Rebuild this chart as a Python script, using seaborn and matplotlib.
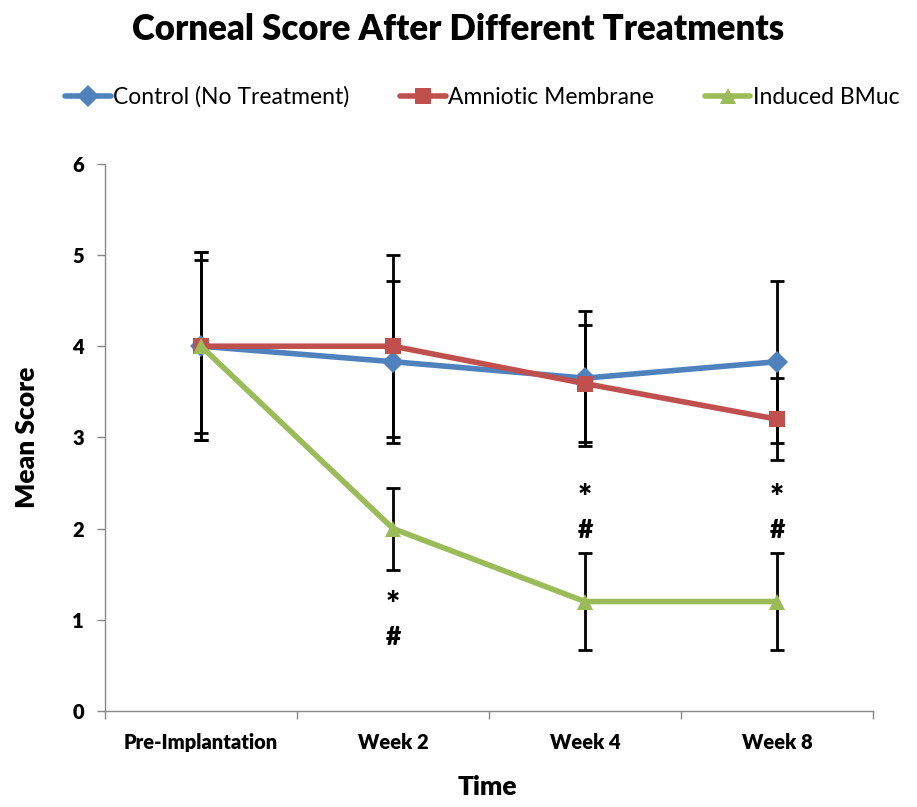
import matplotlib
matplotlib.use("Agg")
import matplotlib.pyplot as plt
import seaborn as sns
import pandas as pd
import numpy as np
from matplotlib.lines import Line2D

categories = ["Pre-Implantation", "Week 2", "Week 4", "Week 8"]
control = [4.0, 3.83, 3.65, 3.83]
control_err = [1.03, 0.89, 0.74, 0.89]
amniotic = [4.0, 4.0, 3.59, 3.2]
amniotic_err = [0.95, 1.0, 0.64, 0.45]
bmuc = [4.0, 2.0, 1.2, 1.2]
bmuc_err = [1.03, 0.45, 0.53, 0.53]
series_names = ["Control (No Treatment)", "Amniotic Membrane", "Induced BMuc"]
colors = ["#4F81BD", "#C0504D", "#9BBB59"]
markers = ["D", "s", "^"]
# significance annotations: (category index, y of "*", y of "#")
annot_cat = [1, 2, 3]
annot_star_y = [1.15, 2.32, 2.32]
annot_hash_y = [0.81, 1.98, 1.98]

sns.set_theme(style="white")
plt.rcParams['font.family'] = ['Lato', 'DejaVu Sans']
plt.rcParams['text.color'] = 'black'
plt.rcParams['axes.labelcolor'] = 'black'
plt.rcParams['xtick.color'] = 'black'
plt.rcParams['ytick.color'] = 'black'

rows = []
for name, vals in zip(series_names, [control, amniotic, bmuc]):
    for c, v in zip(categories, vals):
        rows.append({"Time": c, "Mean Score": v, "Group": name})
df = pd.DataFrame(rows)

fig = plt.figure(figsize=(9.17, 8.07), dpi=100)
ax = fig.add_axes([0.1145, 0.119, 0.8375, 0.678])

x = np.arange(len(categories))
for vals, errs in zip([control, amniotic, bmuc], [control_err, amniotic_err, bmuc_err]):
    ax.errorbar(x, vals, yerr=errs, fmt="none", ecolor="black", elinewidth=2,
                capsize=5, capthick=2, zorder=1)

sns.lineplot(data=df, x="Time", y="Mean Score", hue="Group", style="Group",
             palette=colors, markers=markers, dashes=False, sort=False,
             linewidth=4, markersize=11, markeredgewidth=0, ax=ax, zorder=3,
             legend=False)

for ci, sy, hy in zip(annot_cat, annot_star_y, annot_hash_y):
    ax.text(ci, sy, "*", ha="center", va="center", fontsize=24, fontweight="heavy")
    ax.text(ci, hy, "#", ha="center", va="center", fontsize=19, fontweight="heavy")

ax.set_xlim(-0.5, 3.5)
ax.set_ylim(0, 6)
ax.set_yticks(range(0, 7))
ax.set_xticks(x)
ax.set_xticklabels(categories, fontsize=14.5, fontweight="heavy")
ax.set_xticks(np.arange(-0.5, 4.0, 1.0), minor=True)
ax.tick_params(axis="x", which="major", length=0, pad=16, colors="black")
ax.tick_params(axis="x", which="minor", length=6, width=1, color="#888888", direction="out", bottom=True)
ax.tick_params(axis="y", length=6, width=1, color="#888888", direction="out", left=True,
               labelsize=14.5, pad=9, labelcolor="black")
for lab in ax.get_yticklabels():
    lab.set_fontweight("heavy")

for s in ["top", "right"]:
    ax.spines[s].set_visible(False)
for s in ["left", "bottom"]:
    ax.spines[s].set_color("#888888")
    ax.spines[s].set_linewidth(1)

ax.set_xlabel("")
fig.text(0.531, 0.025, "Time", ha="center", va="center", fontsize=19, fontweight="heavy")
ax.set_ylabel("Mean Score", fontsize=19, fontweight="heavy", labelpad=24)

fig.suptitle("Corneal Score After Different Treatments", fontsize=25, fontweight="heavy", y=0.984)

handles = [Line2D([0], [0], color=c, marker=m, lw=4, markersize=11, markeredgewidth=0)
           for c, m in zip(colors, markers)]
fig.legend(handles, series_names, loc="center", bbox_to_anchor=(0.526, 0.88), ncol=3,
           frameon=False, fontsize=16.5, handlelength=2.0, handletextpad=0.1, columnspacing=2.2)

fig.savefig("out.png", dpi=100)
